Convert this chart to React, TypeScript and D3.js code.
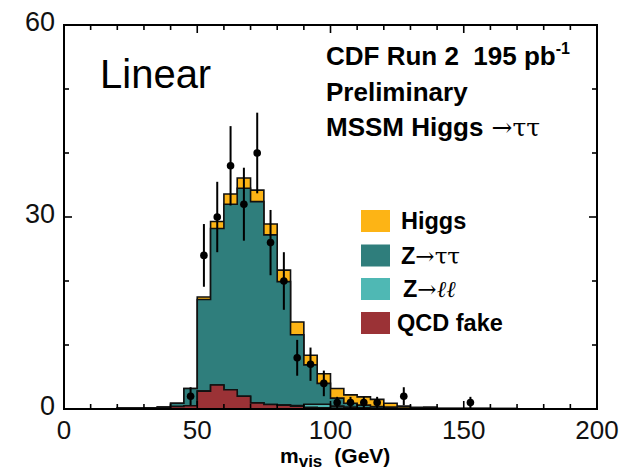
import React from "react";
import * as d3 from "d3";

// ---------- data (5 GeV bins from 0 to 200 GeV) ----------
const binLow: number[] = d3.range(0, 200, 5);

// background / signal contributions per bin (events)
const qcdFake: number[] = [
  0, 0, 0, 0, 0.1, 0.1, 0.1, 0.15, 0.4, 0.5,
  2.8, 3.75, 3.0, 2.0, 0.95, 0.7, 0.6, 0.45, 0.25, 0.2,
  0.15, 0.1, 0.1, 0.1, 0.05, 0, 0, 0, 0, 0,
  0, 0, 0, 0, 0, 0, 0, 0, 0, 0,
];
const zll: number[] = [
  0, 0, 0, 0, 0, 0, 0, 0, 0, 0,
  0, 0, 0, 0, 0, 0, 0, 0.1, 0.5, 0.55,
  0.3, 0.2, 0.1, 0, 0, 0, 0, 0, 0, 0,
  0, 0, 0, 0, 0, 0, 0, 0, 0, 0,
];
const ztautau: number[] = [
  0, 0, 0, 0, 0, 0, 0.05, 0.15, 0.5, 2.7,
  14.3, 24.45, 29.0, 32.5, 31.45, 26.5, 19.3, 11.05, 6.15, 3.25,
  1.25, 0.6, 0.4, 0.3, 0.25, 0.15, 0.1, 0.1, 0.07, 0.07,
  0.07, 0.07, 0.07, 0.07, 0, 0, 0, 0, 0, 0,
];
const higgs: number[] = [
  0, 0, 0, 0, 0, 0, 0, 0, 0, 0,
  0.4, 1.1, 1.6, 1.6, 1.8, 1.7, 1.8, 2.0, 1.5, 1.5,
  1.5, 1.3, 1.3, 1.1, 0.6, 0.3, 0.15, 0.2, 0.05, 0.05,
  0.05, 0.05, 0, 0, 0, 0, 0, 0, 0, 0,
];

// observed data
const dataMass: number[] = [47.5, 52.5, 57.5, 62.5, 67.5, 72.5, 77.5, 82.5, 87.5, 92.5, 97.5, 102.5, 107.5, 112.5, 117.5, 127.5, 152.5];
const dataCount: number[] = [2, 24, 30, 38, 32, 40, 26, 20, 8, 7, 4, 1, 1, 1, 1, 2, 1];
const dataErr: number[] = [1.4, 4.9, 5.5, 6.2, 5.7, 6.3, 5.1, 4.5, 2.8, 2.6, 2.0, 0.9, 0.9, 0.9, 0.9, 1.4, 0.9];

const xTickLabels: number[] = [0, 50, 100, 150, 200];
const yTickLabels: number[] = [0, 30, 60];

const legendItems = [
  { key: "higgs", label: "Higgs", color: "#FDB415" },
  { key: "ztt", label: "Z", sym: "\u2192\u03C4\u03C4", color: "#2F7E7C" },
  { key: "zll", label: "Z", sym: "\u2192\u2113\u2113", color: "#4FB8B4" },
  { key: "qcd", label: "QCD fake", color: "#9B3236" },
];

const W = 637;
const H = 472;
const X0 = 64, X1 = 597, Y0 = 409, Y1 = 25;

export default function App() {
  const x = d3.scaleLinear().domain([0, 200]).range([X0, X1]);
  const y = d3.scaleLinear().domain([0, 60]).range([Y0, Y1]);

  // cumulative stacks
  const layers = [qcdFake, zll, ztautau, higgs];
  const cum: number[][] = [];
  layers.forEach((arr, li) => {
    cum.push(arr.map((v, i) => v + (li > 0 ? cum[li - 1][i] : 0)));
  });
  const colors = ["#9B3236", "#4FB8B4", "#2F7E7C", "#FDB415"];

  const area = d3
    .area<{ x: number; v: number }>()
    .curve(d3.curveStepAfter)
    .x((d) => x(d.x))
    .y0(() => y(0))
    .y1((d) => y(d.v));

  const pathFor = (vals: number[]) => {
    const pts = binLow.map((lo, i) => ({ x: lo, v: vals[i] }));
    pts.push({ x: 200, v: vals[vals.length - 1] });
    return area(pts) || "";
  };

  const font = "'Liberation Sans', Arial, Helvetica, sans-serif";
  const serif = "'DejaVu Serif', 'Liberation Serif', serif";

  const xMinor = d3.range(0, 201, 10);
  const yMinor = d3.range(0, 61, 10);

  return (
    <svg width={W} height={H} style={{ position: "absolute", left: 0, top: 0, background: "#fff" }}>
      {/* stacked histogram, top layer first */}
      {[3, 2, 1, 0].map((li) => (
        <path
          key={li}
          d={pathFor(cum[li])}
          fill={colors[li]}
          stroke="#111"
          strokeWidth={1.6}
          strokeLinejoin="miter"
        />
      ))}

      {/* data points */}
      {dataMass.map((m, i) => (
        <g key={i}>
          <line
            x1={x(m)}
            x2={x(m)}
            y1={y(Math.max(0, dataCount[i] - dataErr[i]))}
            y2={y(dataCount[i] + dataErr[i])}
            stroke="#000"
            strokeWidth={2}
          />
          <circle cx={x(m)} cy={y(dataCount[i])} r={3.8} fill="#000" />
        </g>
      ))}

      {/* ticks */}
      {xMinor.map((v) => {
        const major = v % 50 === 0;
        const len = major ? 8 : 5;
        return (
          <g key={"xt" + v}>
            <line x1={x(v)} x2={x(v)} y1={Y0} y2={Y0 - len} stroke="#000" strokeWidth={1.6} />
            <line x1={x(v)} x2={x(v)} y1={Y1} y2={Y1 + len} stroke="#000" strokeWidth={1.6} />
          </g>
        );
      })}
      {yMinor.map((v) => {
        const major = v % 30 === 0;
        const len = major ? 8 : 5;
        return (
          <g key={"yt" + v}>
            <line x1={X0} x2={X0 + len} y1={y(v)} y2={y(v)} stroke="#000" strokeWidth={1.6} />
            <line x1={X1} x2={X1 - len} y1={y(v)} y2={y(v)} stroke="#000" strokeWidth={1.6} />
          </g>
        );
      })}

      {/* frame */}
      <rect x={X0} y={Y1} width={X1 - X0} height={Y0 - Y1} fill="none" stroke="#000" strokeWidth={2} />

      {/* tick labels */}
      {xTickLabels.map((v) => (
        <text key={"xl" + v} x={x(v)} y={439} textAnchor="middle" fontFamily={font} fontSize={26} fill="#111">
          {v}
        </text>
      ))}
      {yTickLabels.map((v) => (
        <text key={"yl" + v} x={55} y={y(v) + 6} textAnchor="end" fontFamily={font} fontSize={27} fill="#111">
          {v}
        </text>
      ))}

      {/* axis title */}
      <text x={280} y={463} fontFamily={font} fontWeight="bold" fontSize={21} fill="#000">
        m
        <tspan fontSize={17} dy={4}>vis</tspan>
        <tspan dx={12} dy={-4} fontSize={21}>(GeV)</tspan>
      </text>

      {/* labels */}
      <text x={100} y={88} fontFamily={font} fontSize={40} fill="#000">
        Linear
      </text>
      <text x={326} y={65} fontFamily={font} fontWeight="bold" fontSize={26} fill="#000">
        CDF Run 2{"\u00A0\u00A0"}195 pb
        <tspan fontSize={16} dy={-11}>-1</tspan>
      </text>
      <text x={326} y={101} fontFamily={font} fontWeight="bold" fontSize={26} fill="#000">
        Preliminary
      </text>
      <text x={326} y={136} fontFamily={font} fontWeight="bold" fontSize={26} fill="#000">
        MSSM Higgs
        <tspan dx={8} fontFamily={serif} fontWeight="normal" fontSize={25}>{"\u2192\u03C4\u03C4"}</tspan>
      </text>

      {/* legend */}
      {legendItems.map((it, i) => {
        const by = [210, 244.5, 278, 312][i];
        const tx = [401, 401, 403, 397][i];
        return (
          <g key={it.key}>
            <rect x={361} y={by} width={29} height={22} fill={it.color} />
            <text x={tx} y={by + 19} fontFamily={font} fontWeight="bold" fontSize={23.5} fill="#000">
              {it.label}
              {it.sym ? (
                <tspan fontFamily={serif} fontWeight="normal" fontStyle={it.key === "zll" ? "italic" : "normal"} fontSize={23}>
                  {it.sym}
                </tspan>
              ) : null}
            </text>
          </g>
        );
      })}
    </svg>
  );
}
